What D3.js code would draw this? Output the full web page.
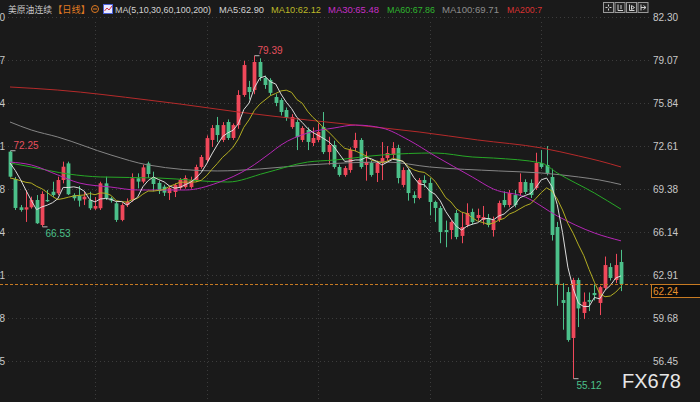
<!DOCTYPE html>
<html><head><meta charset="utf-8">
<script src="https://cdn.jsdelivr.net/npm/d3@7"></script>
<style>html,body{margin:0;padding:0;background:#1a1a1a;overflow:hidden}svg{display:block}</style>
</head><body><svg id="c" width="700" height="402"></svg>
<script>
// ---------- data ----------
const tickValues = [82.30, 79.07, 75.84, 72.61, 69.38, 66.14, 62.91, 59.68, 56.45];
const lastPrice = 62.24;
const opens  = [72.18,70.13,68.00,67.83,68.00,68.55,66.67,68.55,69.17,69.05,70.05,71.30,68.92,68.85,68.60,68.55,67.90,67.93,69.80,68.68,
68.30,67.05,68.17,68.55,70.18,69.93,71.30,70.18,69.83,69.55,69.07,69.15,69.45,69.52,69.52,70.05,71.03,71.55,73.06,74.18,
73.06,74.41,73.21,74.18,76.44,77.04,76.81,78.92,77.72,77.57,76.29,76.06,75.31,74.03,74.41,73.06,73.81,72.83,73.06,74.03,
72.15,72.68,71.03,70.43,70.80,72.46,73.06,71.18,71.33,70.58,71.33,71.70,71.93,72.46,69.68,70.80,68.92,68.70,70.05,69.83,
68.40,67.95,66.29,66.29,67.57,65.85,66.67,67.65,67.20,67.05,67.20,66.29,67.05,68.55,68.17,68.92,69.07,69.90,69.83,69.45,
71.33,71.18,70.28,66.52,61.03,61.63,58.18,62.54,60.06,61.03,61.56,60.81,61.94,63.51,62.54,63.89];
const highs  = [72.25,70.28,68.17,69.30,68.80,68.92,69.20,69.30,69.92,70.30,71.43,71.43,69.05,69.60,69.20,69.17,68.77,69.92,70.30,68.80,
68.42,68.30,68.67,70.55,70.55,71.20,71.43,70.68,70.00,69.70,69.60,69.80,70.20,70.40,70.30,71.20,71.93,73.40,74.18,74.79,
74.40,74.60,74.30,76.80,79.00,77.50,79.39,79.20,77.90,77.70,76.50,76.20,75.50,75.00,74.60,74.10,74.00,74.00,74.30,75.16,
73.30,73.00,71.20,71.10,72.50,73.60,73.20,72.20,71.50,71.50,72.90,72.60,72.90,72.70,71.00,70.90,69.20,70.20,70.40,70.20,
68.50,68.10,67.00,67.00,67.80,67.60,68.30,67.90,67.90,68.10,67.50,67.30,68.50,69.20,69.30,69.30,70.55,70.10,70.10,72.10,
72.30,72.60,70.90,66.90,62.30,62.00,62.70,62.70,61.60,61.60,62.20,62.10,64.30,63.80,64.50,64.80];
const lows   = [70.25,67.80,67.67,66.90,67.90,66.75,66.53,68.40,68.78,68.92,69.80,68.92,68.50,68.05,68.17,67.80,67.80,67.80,68.55,68.35,
66.90,66.95,68.02,68.42,69.42,69.80,70.20,69.20,69.00,68.85,68.55,68.77,69.30,69.40,69.40,69.90,70.90,71.40,72.53,72.91,
72.90,73.06,73.06,73.90,76.30,76.10,76.50,77.50,76.90,76.40,75.60,74.90,74.50,73.90,72.30,72.90,72.30,72.60,72.90,72.00,
71.20,70.90,70.30,70.30,70.60,72.20,70.90,70.00,70.30,69.90,70.05,71.50,71.70,69.80,69.50,68.50,68.30,68.60,69.50,67.40,
66.90,65.30,65.00,65.60,65.60,65.30,66.50,66.70,67.00,66.70,66.50,65.80,66.90,68.00,68.00,68.00,68.90,69.00,68.70,69.30,
70.90,70.40,65.50,60.60,58.80,57.90,55.12,59.00,59.60,60.20,61.00,59.90,61.80,62.50,62.30,61.70];
const closes = [70.30,67.95,67.80,68.00,68.55,66.80,69.00,68.45,68.92,70.05,71.05,68.98,68.68,68.50,68.80,67.93,68.10,69.80,68.68,68.50,
67.05,68.17,68.42,70.18,69.93,71.00,70.50,69.75,69.22,69.10,69.45,69.68,70.05,70.20,70.05,71.03,71.78,73.20,73.96,73.43,
74.18,73.21,74.18,76.44,78.69,76.66,78.92,77.79,77.19,76.60,75.84,75.16,74.71,74.79,73.28,73.96,72.91,73.21,73.66,72.15,
72.68,71.03,70.43,70.95,72.31,73.06,71.03,71.40,70.43,71.33,71.70,72.08,72.46,70.20,70.80,69.07,68.70,70.05,69.83,68.40,
67.95,66.14,66.14,66.89,65.77,66.52,67.57,66.89,67.42,67.27,66.67,67.05,68.32,68.17,69.07,68.17,69.90,69.15,68.92,71.33,
71.03,70.58,65.92,62.16,60.81,58.03,62.54,60.40,60.90,60.90,61.40,62.00,63.66,62.69,63.66,62.24];
// closes before the first visible candle (only feed MA5 / MA10)
const preCloses = [68.80,69.00,69.20,69.10,69.25,70.80,71.30,71.90,72.36];

// long moving averages at candle indices
const ma30Idx  = [0,4,9,13,19,24,33,39,45,49,51,56,61,65,70,75,80,87,91,97,103,110,115];
const ma30Val  = [71.40,71.18,70.43,69.83,69.52,69.30,69.30,69.83,70.95,72.08,72.68,73.58,73.96,74.18,73.96,73.06,71.86,70.28,69.37,68.77,67.35,66.07,65.48];
const ma60Idx  = [0,4,11,17,28,41,48,56,61,70,80,87,91,100,103,110,115];
const ma60Val  = [71.33,71.03,70.50,70.28,70.20,69.90,70.58,71.40,71.55,71.93,72.08,71.78,71.70,71.33,70.58,69.07,67.86];
const ma100Idx = [0,4,9,19,26,39,47,56,71,79,92,100,107,111,115];
const ma100Val = [74.41,73.81,73.28,71.93,71.18,70.73,70.88,71.18,71.40,71.03,70.73,70.58,70.28,70.05,69.71];
const ma200Idx = [0,9,26,32,43,56,65,77,88,100,107,111,115];
const ma200Val = [77.04,76.81,76.06,75.76,75.16,74.56,74.18,73.66,73.06,72.46,71.86,71.48,71.03];

const legendTitle = "美原油连续";
const legendPeriod = "【日线】";
const maNames  = ["MA(5,10,30,60,100,200)","MA5:62.90","MA10:62.12","MA30:65.48","MA60:67.86","MA100:69.71","MA200:7"];
const extremes = [ {i:0, v:72.25, kind:"high"}, {i:6, v:66.53, kind:"low"}, {i:46, v:79.39, kind:"high"}, {i:106, v:55.12, kind:"low"} ];
const vGridIdx = [16, 37, 58, 79, 100];

// ---------- styles ----------
const UP = "#f0485a", DOWN = "#4cc08a";
const maColors = {ma5:"#dcdcdc", ma10:"#b2ad22", ma30:"#b526b5", ma60:"#27a827", ma100:"#858585", ma200:"#b52a2a"};
const legendColors = ["#d2d2d2","#d2d2d2","#bdb928","#c52fc5","#2fb52f","#8c8c8c","#d83232"];
const legendX = [115,219,271,328,387,442,507];
const legendW = [96,45,50,51,48,57,35];
const legendFS = [9.3,9.6,9.6,9.6,9.6,9.6,9.6];
const FONT = "'Liberation Sans', Arial, sans-serif";

const svg = d3.select("#c");
svg.append("rect").attr("width",700).attr("height",402).attr("fill","#1a1a1a");

const n = closes.length;
const x = d3.scaleLinear().domain([0, n-1]).range([10, 621]);
const y = d3.scaleLinear().domain([56.45, 82.30]).range([361, 17]);

// grid
const grid = svg.append("g");
grid.selectAll("line.h").data(tickValues).join("line")
  .attr("x1",0).attr("x2",650).attr("y1",d=>Math.round(y(d))+0.5).attr("y2",d=>Math.round(y(d))+0.5)
  .attr("stroke","#3c3c3c").attr("stroke-dasharray","1,3");
grid.selectAll("line.v").data(vGridIdx).join("line")
  .attr("x1",d=>Math.round(x(d))+0.5).attr("x2",d=>Math.round(x(d))+0.5).attr("y1",22).attr("y2",402)
  .attr("stroke","#3c3c3c").attr("stroke-dasharray","1,3");

// right axis
const yAxis = d3.axisRight(y).tickValues(tickValues).tickFormat(d3.format(".2f")).tickSize(0).tickPadding(0);
const ax = svg.append("g").attr("transform","translate(653,0)").call(yAxis);
ax.select(".domain").remove();
ax.selectAll("text").attr("fill","#c8c8c8").attr("font-size",10).attr("font-family",FONT).attr("dy","0.35em");

// left axis (cut by the window edge, as in the original)
const axL = svg.append("g").attr("transform","translate(5,0)").call(d3.axisLeft(y).tickValues(tickValues).tickFormat(d3.format(".2f")).tickSize(0).tickPadding(0));
axL.select(".domain").remove();
axL.selectAll("text").attr("fill","#c8c8c8").attr("font-size",10).attr("font-family",FONT).attr("dy","0.35em");

// candles
const idx = d3.range(n);
const cg = svg.append("g");
const bw = 3.8;
cg.selectAll("line.w").data(idx).join("line")
  .attr("x1",i=>Math.round(x(i))+0.5).attr("x2",i=>Math.round(x(i))+0.5)
  .attr("y1",i=>y(highs[i])).attr("y2",i=>y(lows[i]))
  .attr("stroke",i=>closes[i]>=opens[i]?UP:DOWN).attr("stroke-width",1);
cg.selectAll("rect").data(idx).join("rect")
  .attr("x",i=>Math.round(x(i))+0.5-bw/2).attr("width",bw)
  .attr("y",i=>y(Math.max(opens[i],closes[i])))
  .attr("height",i=>Math.max(1,Math.abs(y(opens[i])-y(closes[i]))))
  .attr("fill",i=>closes[i]>=opens[i]?UP:DOWN);

// moving averages
function sma(p){
  const all = preCloses.concat(closes), off = preCloses.length;
  return closes.map((_,i)=>{let s=0; for(let k=i+off-p+1;k<=i+off;k++) s+=all[k]; return s/p;});
}
const lineLin = d3.line().x(d=>x(d[0])).y(d=>y(d[1]));
const lineSm = d3.line().x(d=>x(d[0])).y(d=>y(d[1])).curve(d3.curveMonotoneX);
const mg = svg.append("g").attr("fill","none").attr("stroke-width",1);
[[ma200Idx,ma200Val,"ma200"],[ma100Idx,ma100Val,"ma100"],[ma60Idx,ma60Val,"ma60"],[ma30Idx,ma30Val,"ma30"]].forEach(([I,V,k])=>{
  mg.append("path").attr("d",lineSm(I.map((d,j)=>[d,V[j]]))).attr("stroke",maColors[k]);
});
mg.append("path").attr("d",lineLin(sma(10).map((v,i)=>[i,v]))).attr("stroke",maColors.ma10);
mg.append("path").attr("d",lineLin(sma(5).map((v,i)=>[i,v]))).attr("stroke",maColors.ma5);

// last price line + box
const py = Math.round(y(lastPrice))+0.5;
svg.append("line").attr("x1",0).attr("x2",651).attr("y1",py).attr("y2",py)
  .attr("stroke","#c77a22").attr("stroke-dasharray","3,2");
svg.append("rect").attr("x",651.5).attr("y",py).attr("width",52).attr("height",13)
  .attr("fill","#0c0c0c").attr("stroke","#c77a22");
svg.append("text").attr("x",653).attr("y",py+10).text(d3.format(".2f")(lastPrice))
  .attr("fill","#e8922c").attr("font-size",10).attr("font-family",FONT);

// extreme labels
const eg = svg.append("g");
extremes.forEach(e=>{
  const cx = Math.round(x(e.i))+0.5, ey = y(e.v);
  eg.append("line").attr("x1",cx).attr("x2",cx+5).attr("y1",ey).attr("y2",ey).attr("stroke","#bbbbbb");
  eg.append("text").attr("x",cx+3).attr("y",e.kind==="high"?ey-2:ey+10).text(d3.format(".2f")(e.v))
    .attr("fill",e.kind==="high"?"#e5505e":"#4cc08a").attr("font-size",10).attr("font-family",FONT);
});

// legend
const lg = svg.append("g").attr("font-family",FONT);
lg.append("text").attr("x",8).attr("y",12.5).text(legendTitle).attr("fill","#c8c8c8")
  .attr("font-family","'Noto Sans CJK SC', sans-serif").attr("font-size",9)
  .attr("textLength",44).attr("lengthAdjust","spacingAndGlyphs");
lg.append("text").attr("x",53).attr("y",12.5).text(legendPeriod).attr("fill","#e07a22")
  .attr("font-family","'Noto Sans CJK SC', sans-serif").attr("font-size",9.5)
  .attr("textLength",37).attr("lengthAdjust","spacingAndGlyphs");
lg.append("circle").attr("cx",95).attr("cy",9).attr("r",3.5).attr("fill","none").attr("stroke","#e07a22");
lg.append("line").attr("x1",93).attr("x2",97).attr("y1",9).attr("y2",9).attr("stroke","#e07a22");
lg.append("rect").attr("x",103.5).attr("y",4.5).attr("width",9).attr("height",9).attr("fill","#e8e8ff").attr("stroke","#4a60d8");
lg.append("polyline").attr("points","104.5,11 107,8 109,10 112,6").attr("fill","none").attr("stroke","#d03040");
maNames.forEach((t,j)=>{
  lg.append("text").attr("x",legendX[j]).attr("y",12.5).text(t).attr("fill",legendColors[j])
    .attr("font-size",legendFS[j])
    .attr("textLength",legendW[j]).attr("lengthAdjust","spacingAndGlyphs");
});

// toolbar icons
const tb = svg.append("g");
[603,614.5,626,637.5].forEach((tx,j)=>{
  tb.append("rect").attr("x",tx+0.5).attr("y",2.5).attr("width",10).attr("height",10).attr("fill","#242424").attr("stroke","#9a9a9a");
  const g = tb.append("g").attr("stroke","#d0d0d0").attr("fill","none");
  if(j===0){ g.append("path").attr("d",`M${tx+5.5},4.5v2M${tx+5.5},8.5v2M${tx+2.5},7.5h2M${tx+6.5},7.5h2`); }
  else if(j===1){ g.append("path").attr("d",`M${tx+3.5},4.5v6h5M${tx+6.5},5v4`); }
  else if(j===2){ g.append("path").attr("d",`M${tx+3.5},4.5v6h5M${tx+5.5},5.5l3,2l-3,2z`); }
  else { g.append("path").attr("d",`M${tx+3.5},4.5v6M${tx+3.5},7.5h5M${tx+6},5.5l2.5,2l-2.5,2`); }
});

// watermark
svg.append("text").attr("x",622).attr("y",387.5).text("FX678").attr("fill","#e6e6e6")
  .attr("font-size",20).attr("font-family",FONT);
</script></body></html>
